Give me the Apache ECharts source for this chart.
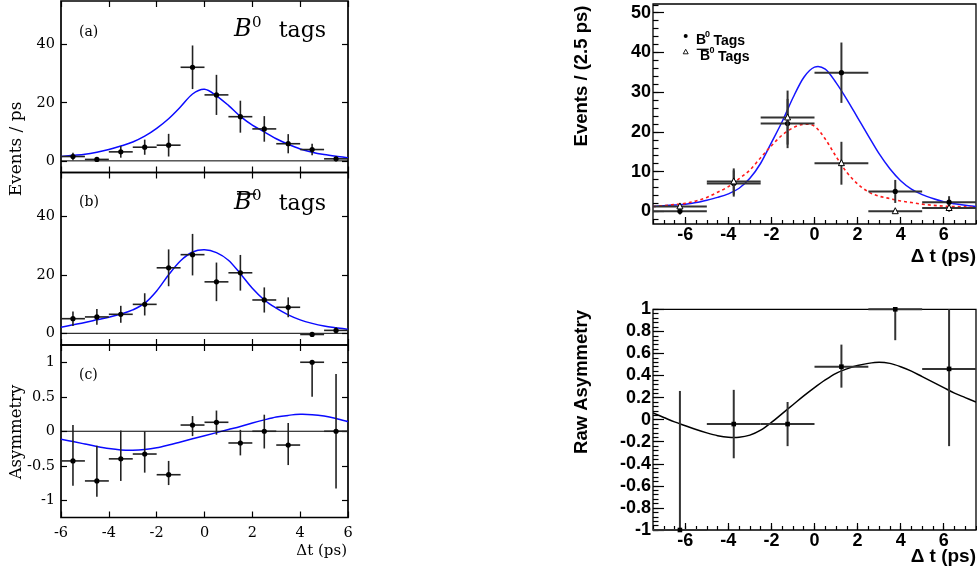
<!DOCTYPE html>
<html><head><meta charset="utf-8">
<script src="https://cdn.jsdelivr.net/npm/echarts@6/dist/echarts.min.js"></script>
<style>html,body{margin:0;padding:0;background:#fff}#c{width:977px;height:579px}</style>
</head><body><div id="c"></div>
<script>
// ---------------- DATA ----------------
// Left column (1 ps bins)
const binsL = [-5.5,-4.5,-3.5,-2.5,-1.5,-0.5,0.5,1.5,2.5,3.5,4.5,5.5];
const aVal = [1.5,0.5,3.1,4.7,5.4,32.2,22.7,15.2,11.0,5.9,3.9,0.7];
const aErr = [1.3,0.4,2.0,2.6,3.9,7.5,6.9,5.5,4.4,3.3,2.0,0.8];
const bVal = [5.0,5.6,6.5,9.9,22.4,26.9,17.6,20.7,11.4,8.9,-0.4,1.0];
const bErr = [2.5,2.7,2.9,3.8,6.3,7.1,6.6,6.1,4.3,3.4,0,1.0];
const cVal = [-0.43,-0.72,-0.40,-0.33,-0.63,0.09,0.13,-0.17,0,-0.20,1.0,0];
const cLo  = [-0.79,-0.95,-0.72,-0.60,-0.78,-0.07,-0.05,-0.35,-0.25,-0.49,0.50,-0.83];
const cHi  = [0.09,-0.21,0.01,0.0,-0.43,0.22,0.30,0.02,0.24,0.12,1.0,0.83];

// fitted curves, read every 0.5 ps
const fitLX = [-6,-5.5,-5,-4.5,-4,-3.5,-3,-2.5,-2,-1.5,-1,-0.5,0,0.5,1,1.5,2,2.5,3,3.5,4,4.5,5,5.5,6];
const fitAY = [1.5,1.9,2.3,3.0,3.9,5.1,6.5,8.5,11.2,14.5,18.6,23.0,24.6,22.4,19.1,15.3,12.3,10.0,7.6,5.7,4.1,3.0,2.2,1.6,1.1];
const fitBY = [2.1,2.9,3.7,4.6,5.5,6.6,8.0,10.3,14.5,20.0,24.8,27.8,28.6,27.6,25.0,20.4,15.4,11.4,8.6,6.3,4.6,3.4,2.5,1.9,1.4];
const fitCY = [-0.115,-0.15,-0.185,-0.22,-0.25,-0.27,-0.275,-0.265,-0.24,-0.2,-0.155,-0.11,-0.065,-0.02,0.025,0.07,0.12,0.165,0.205,0.23,0.245,0.24,0.22,0.185,0.14];

// Right column (2.5 ps bins)
const binsR = [-6.25,-3.75,-1.25,1.25,3.75,6.25];
const b0Val = [0.0,7.0,22.1,34.9,5.0,2.3];
const b0Err = [0.8,3.3,6.2,7.6,2.9,1.5];
const b0barVal = [1.2,7.5,23.6,12.1,0.0,0.8];
const b0barErr = [0.8,3.3,6.8,5.4,0,0.9];
const asymVal = [-1.0,-0.04,-0.04,0.48,1.0,0.46];
const asymLo  = [-1.0,-0.35,-0.24,0.29,0.72,-0.24];
const asymHi  = [0.26,0.27,0.16,0.68,1.0,1.0];

const fitRX = [-7.5,-7,-6.5,-6,-5.5,-5,-4.5,-4,-3.5,-3,-2.5,-2,-1.5,-1,-0.5,0,0.5,1,1.5,2,2.5,3,3.5,4,4.5,5,5.5,6,6.5,7,7.5];
const fitB0Y = [1.2,1.4,1.6,1.8,2.2,2.8,3.5,4.4,5.8,8.3,12.1,17.3,22.6,28.6,33.7,36.3,35.8,32.4,28.2,23.6,19.0,14.5,10.7,7.7,5.6,4.2,3.2,2.4,1.9,1.5,1.2];
const fitB0barY = [1.2,1.4,1.7,2.0,2.6,3.5,4.8,6.2,8.2,10.4,13.5,16.5,19.2,21.0,21.9,21.4,18.2,13.8,9.8,6.9,4.9,3.8,3.2,2.6,2.2,1.8,1.5,1.3,1.2,1.1,1.0];
const fitAsymY = [0.06,0.02,-0.02,-0.055,-0.09,-0.12,-0.145,-0.16,-0.16,-0.14,-0.095,-0.025,0.055,0.135,0.215,0.29,0.36,0.42,0.46,0.49,0.51,0.52,0.51,0.48,0.44,0.39,0.34,0.29,0.24,0.20,0.16];

// tick labels
const xTicksL = [-6,-4,-2,0,2,4,6];
const yTicksAB = [0,20,40];
const yTicksC = [-1,-0.5,0,0.5,1];
const xTicksR = [-6,-4,-2,0,2,4,6];
const yTicksTR = [0,10,20,30,40,50];
const yTicksBR = [-1,-0.8,-0.6,-0.4,-0.2,0,0.2,0.4,0.6,0.8,1];

// ---------------- STYLE ----------------
const SERIF = 'DejaVu Serif';
const SANS = 'Liberation Sans';
const xMinorR = []; for (let k = -15; k <= 15; k++) xMinorR.push(k / 2);
const yMinorTR = []; for (let k = -1; k <= 26; k++) yMinorTR.push(k * 2);
const yMinorBR = []; for (let k = -25; k <= 25; k++) yMinorBR.push(Math.round(k * 4) / 100);

function axis(o) {
  return {
    type: 'value', gridIndex: o.g, position: o.pos, min: o.min, max: o.max,
    axisLine: { show: false, onZero: false },
    splitLine: { show: false },
    axisTick: { show: true, inside: true, length: o.len, customValues: o.ticks,
                lineStyle: { color: '#000', width: o.tw || 1.2 } },
    axisLabel: { show: !!o.label, customValues: o.ticks, margin: o.margin || 4,
                 fontFamily: o.font || SERIF, fontSize: o.fs || 14.5,
                 fontWeight: o.fw || 'normal', color: '#000' }
  };
}

const xAxes = [
  axis({g:0,pos:'bottom',min:-6,max:6,ticks:xTicksL,len:6}),
  axis({g:0,pos:'top',min:-6,max:6,ticks:xTicksL,len:6}),
  axis({g:1,pos:'bottom',min:-6,max:6,ticks:xTicksL,len:6}),
  axis({g:1,pos:'top',min:-6,max:6,ticks:xTicksL,len:6}),
  axis({g:2,pos:'bottom',min:-6,max:6,ticks:xTicksL,len:6,label:true,margin:8}),
  axis({g:2,pos:'top',min:-6,max:6,ticks:xTicksL,len:6}),
  axis({g:3,pos:'bottom',min:-7.5,max:7.5,ticks:xTicksR,len:7,label:true,margin:2,font:SANS,fs:18,fw:'bold'}),
  axis({g:3,pos:'bottom',min:-7.5,max:7.5,ticks:xMinorR,len:4}),
  axis({g:4,pos:'bottom',min:-7.5,max:7.5,ticks:xTicksR,len:7,label:true,margin:2,font:SANS,fs:18,fw:'bold'}),
  axis({g:4,pos:'bottom',min:-7.5,max:7.5,ticks:xMinorR,len:4})
];
const yAxes = [
  axis({g:0,pos:'left',min:-4,max:55,ticks:yTicksAB,len:6,label:true,margin:6}),
  axis({g:0,pos:'right',min:-4,max:55,ticks:yTicksAB,len:6}),
  axis({g:1,pos:'left',min:-4,max:55,ticks:yTicksAB,len:6,label:true,margin:6}),
  axis({g:1,pos:'right',min:-4,max:55,ticks:yTicksAB,len:6}),
  axis({g:2,pos:'left',min:-1.25,max:1.25,ticks:yTicksC,len:6,label:true,margin:6}),
  axis({g:2,pos:'right',min:-1.25,max:1.25,ticks:yTicksC,len:6}),
  axis({g:3,pos:'left',min:-3.2,max:52.2,ticks:yTicksTR,len:11,label:true,margin:2,font:SANS,fs:18,fw:'bold'}),
  axis({g:3,pos:'left',min:-3.2,max:52.2,ticks:yMinorTR,len:5.5}),
  axis({g:4,pos:'left',min:-1,max:1,ticks:yTicksBR,len:11,label:true,margin:2,font:SANS,fs:18,fw:'bold'}),
  axis({g:4,pos:'left',min:-1,max:1,ticks:yMinorBR,len:5.5})
];

function gridBox(left, top, width, height, bw) {
  return { left, top, width, height, show: true, borderColor: '#000', borderWidth: bw,
           backgroundColor: 'rgba(0,0,0,0)', outerBoundsMode: 'none', containLabel: false };
}
const grids = [
  gridBox(61, 1, 287, 171.5, 1.7),
  gridBox(61, 172.5, 287, 172.5, 1.7),
  gridBox(61, 345, 287, 172.5, 1.7),
  gridBox(653, 4, 323, 220, 1.3),
  gridBox(653, 309.3, 323, 220.7, 1.3)
];

function errSeries(ax, rows, marker, color, lw, r) {
  return {
    type: 'custom', xAxisIndex: ax, yAxisIndex: ax, data: rows, clip: false, z: 5,
    renderItem: function (params, api) {
      const x = api.value(0), y = api.value(1), xe = api.value(2), lo = api.value(3), hi = api.value(4);
      const p = api.coord([x, y]);
      const pl = api.coord([x - xe, y]), pr = api.coord([x + xe, y]);
      const pt = api.coord([x, hi]), pb = api.coord([x, lo]);
      const ls = { stroke: color, lineWidth: lw };
      const ch = [];
      if (xe > 0) ch.push({ type: 'line', shape: { x1: pl[0], y1: p[1], x2: pr[0], y2: p[1] }, style: ls });
      if (hi > lo) ch.push({ type: 'line', shape: { x1: p[0], y1: pt[1], x2: p[0], y2: pb[1] }, style: ls });
      if (marker === 'circle') {
        ch.push({ type: 'circle', shape: { cx: p[0], cy: p[1], r: r }, style: { fill: '#000' } });
      } else if (marker === 'square') {
        ch.push({ type: 'rect', shape: { x: p[0] - r, y: p[1] - r, width: 2 * r, height: 2 * r }, style: { fill: '#000' } });
      } else if (marker === 'triangle') {
        ch.push({ type: 'polygon', shape: { points: [[p[0], p[1] - r * 1.2], [p[0] - r, p[1] + r * 0.8], [p[0] + r, p[1] + r * 0.8]] },
                  style: { fill: '#fff', stroke: '#000', lineWidth: 1 } });
      }
      return { type: 'group', children: ch };
    }
  };
}
function symRows(xs, vals, errs, xe) {
  return xs.map((x, i) => [x, vals[i], xe, vals[i] - errs[i], vals[i] + errs[i]]);
}
function asymRows(xs, vals, lo, hi, xe) {
  return xs.map((x, i) => [x, vals[i], xe, lo[i], hi[i]]);
}
// smooth fitted curve: Catmull-Rom spline through the read points, placed with the axis scales
function curve(ax, xs, ys, color, lw, dash, zeroLine) {
  const pts = xs.map((x, i) => [x, ys[i]]);
  return {
    type: 'custom', xAxisIndex: ax, yAxisIndex: ax, data: pts, clip: true, z: 4,
    renderItem: function (params, api) {
      if (params.dataIndex !== 0) return null;
      const P = pts.map(p => api.coord(p));
      let d = 'M' + P[0][0] + ',' + P[0][1];
      for (let i = 0; i < P.length - 1; i++) {
        const p0 = P[Math.max(0, i - 1)], p1 = P[i], p2 = P[i + 1], p3 = P[Math.min(P.length - 1, i + 2)];
        const c1 = [p1[0] + (p2[0] - p0[0]) / 6, p1[1] + (p2[1] - p0[1]) / 6];
        const c2 = [p2[0] - (p3[0] - p1[0]) / 6, p2[1] - (p3[1] - p1[1]) / 6];
        d += ' C' + c1[0] + ',' + c1[1] + ' ' + c2[0] + ',' + c2[1] + ' ' + p2[0] + ',' + p2[1];
      }
      const ch = [{ type: 'path', shape: { pathData: d },
        style: { fill: 'none', stroke: color, lineWidth: lw, lineDash: dash || null } }];
      if (zeroLine) {
        const a = api.coord([-6, 0]), b = api.coord([6, 0]);
        ch.push({ type: 'line', shape: { x1: a[0], y1: a[1], x2: b[0], y2: b[1] }, style: { stroke: '#000', lineWidth: 1 } });
      }
      return { type: 'group', children: ch };
    }
  };
}

const series = [
  curve(0, fitLX, fitAY, '#0a0aff', 1.5, null, true),
  errSeries(0, symRows(binsL, aVal, aErr, 0.5), 'circle', '#222', 1.6, 2.6),
  curve(2, fitLX, fitBY, '#0a0aff', 1.5, null, true),
  errSeries(2, symRows(binsL, bVal, bErr, 0.5), 'circle', '#222', 1.6, 2.6),
  curve(4, fitLX, fitCY, '#0a0aff', 1.5, null, true),
  errSeries(4, asymRows(binsL, cVal, cLo, cHi, 0.5), 'circle', '#222', 1.6, 2.6),
  errSeries(6, symRows(binsR, b0Val, b0Err, 1.25), 'circle', '#333', 2, 2.6),
  errSeries(6, symRows(binsR, b0barVal, b0barErr, 1.25), 'triangle', '#333', 2, 3),
  curve(6, fitRX, fitB0Y, '#1515ff', 1.5, null, false),
  curve(6, fitRX, fitB0barY, '#ff1a1a', 1.6, [3, 3], false),
  curve(8, fitRX, fitAsymY, '#000', 1.5, null, false),
  errSeries(8, asymRows(binsR, asymVal, asymLo, asymHi, 1.25), 'square', '#333', 2, 2.3)
];

function txt(x, y, text, o) {
  return { type: 'text', x: x, y: y, rotation: o.rot || 0, scaleX: o.sx || 1, silent: true, z: 10,
    style: { text: text, fill: '#000', fontFamily: o.font || SERIF, fontSize: o.fs,
             fontStyle: o.it ? 'italic' : 'normal', fontWeight: o.bold ? 'bold' : 'normal',
             textAlign: o.align || 'left', textVerticalAlign: 'middle' } };
}
function hline(x1, x2, y, w) {
  return { type: 'line', silent: true, z: 10, shape: { x1: x1, y1: y, x2: x2, y2: y }, style: { stroke: '#000', lineWidth: w } };
}

const graphics = [
  // left column texts
  txt(79, 32, '(a)', { fs: 14 }),
  txt(234, 30, 'B', { fs: 24, it: true }),
  txt(252, 23, '0', { fs: 15 }),
  txt(326, 31, 'tags', { fs: 22, align: 'right' }),
  txt(79, 202.5, '(b)', { fs: 14 }),
  hline(237, 256, 194, 1.5),
  txt(234, 203, 'B', { fs: 24, it: true }),
  txt(252, 196, '0', { fs: 15 }),
  txt(326, 204, 'tags', { fs: 22, align: 'right' }),
  txt(79, 375, '(c)', { fs: 14 }),
  txt(17, 149, 'Events / ps', { fs: 17, rot: Math.PI / 2, align: 'center' }),
  txt(17, 432, 'Asymmetry', { fs: 16.5, rot: Math.PI / 2, align: 'center' }),
  txt(347, 551, 'Δt (ps)', { fs: 15, align: 'right' }),
  // right column texts
  txt(582, 76, 'Events / (2.5 ps)', { font: SANS, fs: 18.5, bold: true, rot: Math.PI / 2, align: 'center' }),
  txt(582, 382, 'Raw Asymmetry', { font: SANS, fs: 18.5, bold: true, rot: Math.PI / 2, align: 'center' }),
  txt(976, 257, 'Δ t (ps)', { font: SANS, fs: 19, bold: true, align: 'right' }),
  txt(976, 557, 'Δ t (ps)', { font: SANS, fs: 19, bold: true, align: 'right' }),
  // legend
  { type: 'circle', silent: true, z: 10, shape: { cx: 685.7, cy: 36, r: 2 }, style: { fill: '#000' } },
  txt(696, 40.5, 'B', { font: SANS, fs: 14, bold: true }),
  txt(705, 34.5, '0', { font: SANS, fs: 9, bold: true }),
  txt(713.5, 41, 'Tags', { font: SANS, fs: 14, bold: true }),
  { type: 'polygon', silent: true, z: 10, shape: { points: [[685.7, 49.3], [683.2, 53.8], [688.2, 53.8]] },
    style: { fill: '#fff', stroke: '#000', lineWidth: 0.9 } },
  hline(696.7, 708.7, 49.3, 1.3),
  txt(700, 56.5, 'B', { font: SANS, fs: 14, bold: true }),
  txt(709.5, 50.5, '0', { font: SANS, fs: 9, bold: true }),
  txt(718, 57, 'Tags', { font: SANS, fs: 14, bold: true })
];

const chart = echarts.init(document.getElementById('c'), null, { renderer: 'canvas' });
chart.setOption({
  animation: false,
  backgroundColor: '#fff',
  grid: grids,
  xAxis: xAxes,
  yAxis: yAxes,
  series: series,
  graphic: graphics
});
</script></body></html>
